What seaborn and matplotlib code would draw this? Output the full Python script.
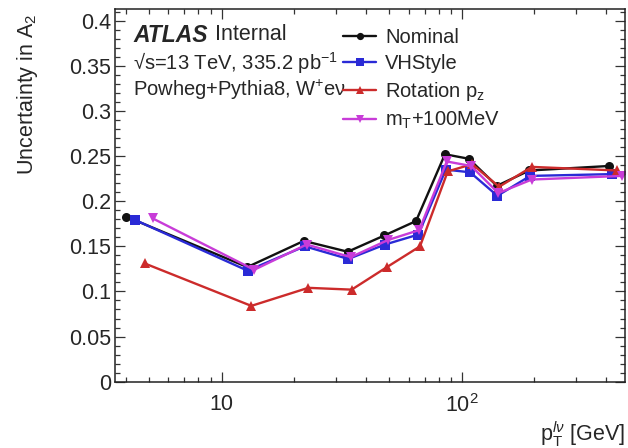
import numpy as np
import pandas as pd
import matplotlib
matplotlib.use("Agg")
import matplotlib.pyplot as plt
from matplotlib.ticker import FixedLocator, LogLocator, NullFormatter, MultipleLocator, FuncFormatter
import seaborn as sns

# pT bin positions (GeV) and uncertainty in A2 for each variation
nominal_pt = [4.0, 12.8, 22.0, 33.5, 47.6, 64.5, 85.1, 107.0, 140.0, 191.0, 410.0]
nominal_unc = [0.183, 0.127, 0.156, 0.144, 0.162, 0.178, 0.252, 0.247, 0.217, 0.234, 0.239]

vhstyle_pt = [4.38, 12.83, 22.2, 33.7, 47.9, 65.9, 85.8, 108.3, 140.6, 192.6, 424.0]
vhstyle_unc = [0.179, 0.123, 0.150, 0.136, 0.152, 0.163, 0.235, 0.232, 0.206, 0.228, 0.230]

rotation_pt = [4.79, 13.3, 22.96, 34.8, 48.8, 67.0, 87.4, 110.4, 143.0, 195.7, 444.6]
rotation_unc = [0.131, 0.084, 0.104, 0.102, 0.127, 0.150, 0.233, 0.241, 0.216, 0.238, 0.234]

mt_pt = [5.16, 13.67, 22.6, 34.5, 49.3, 66.5, 86.6, 109.3, 142.0, 195.7, 464.0]
mt_unc = [0.181, 0.124, 0.152, 0.138, 0.157, 0.168, 0.244, 0.239, 0.209, 0.224, 0.228]

series_names = ["Nominal", "VHStyle", "Rotation p$_\\mathregular{z}$", "m$_\\mathregular{T}$+100MeV"]
x_ticks = [10, 100]
x_tick_labels = ["10", "10$^\\mathregular{2}$"]

df = pd.concat([
    pd.DataFrame({"pt": nominal_pt, "unc": nominal_unc, "series": series_names[0]}),
    pd.DataFrame({"pt": vhstyle_pt, "unc": vhstyle_unc, "series": series_names[1]}),
    pd.DataFrame({"pt": rotation_pt, "unc": rotation_unc, "series": series_names[2]}),
    pd.DataFrame({"pt": mt_pt, "unc": mt_unc, "series": series_names[3]}),
], ignore_index=True)

sns.set_style("ticks")
plt.rcParams["font.family"] = ["Liberation Sans", "DejaVu Sans"]
plt.rcParams["mathtext.fontset"] = "custom"
plt.rcParams["mathtext.rm"] = "Liberation Sans"
plt.rcParams["mathtext.it"] = "Liberation Sans:italic"
plt.rcParams["mathtext.bf"] = "Liberation Sans:bold"

palette = {series_names[0]: "#111111", series_names[1]: "#2a2ad6",
           series_names[2]: "#cc2b2b", series_names[3]: "#c83cd8"}
markers = {series_names[0]: "o", series_names[1]: "s",
           series_names[2]: "^", series_names[3]: "v"}

W, H = 628, 448
fig = plt.figure(figsize=(W / 100, H / 100), dpi=100)
ax = fig.add_axes([115 / W, 1 - 381.7 / H, 510 / W, 372.4 / H])

sns.lineplot(data=df, x="pt", y="unc", hue="series", style="series",
             hue_order=series_names, style_order=series_names,
             palette=palette, markers=markers, dashes=False,
             sort=False, estimator=None, linewidth=1.7, markersize=6.5,
             markeredgewidth=0, legend=False, ax=ax)

ax.set_xscale("log")
ax.set_xlim(3.6, 478)
ax.set_ylim(0, 0.4126)

ax.xaxis.set_major_locator(FixedLocator(x_ticks))
ax.set_xticklabels(x_tick_labels)
ax.xaxis.set_minor_locator(LogLocator(base=10, subs=np.arange(2, 10)))
ax.xaxis.set_minor_formatter(NullFormatter())
ax.yaxis.set_major_locator(MultipleLocator(0.05))
ax.yaxis.set_minor_locator(MultipleLocator(0.01))
ax.yaxis.set_major_formatter(FuncFormatter(lambda v, p: "%g" % round(v, 3)))

ax.tick_params(which="both", direction="in", top=True, right=True,
               color="#333333", width=0.9, labelsize=15.5)
ax.tick_params(which="major", length=7.2)
ax.tick_params(which="minor", length=3.6)
ax.tick_params(axis="x", which="major", pad=9)
ax.tick_params(axis="y", which="major", pad=3)
for sp in ax.spines.values():
    sp.set_linewidth(1.1)
    sp.set_color("#222222")

ax.set_ylabel("Uncertainty in A$_\\mathregular{2}$", fontsize=15.5, loc="top")
ax.yaxis.set_label_coords(-0.148, 0.99)
ax.set_xlabel("p$_\\mathregular{T}^{l\\nu}$ [GeV]", fontsize=15.5, loc="right")
ax.xaxis.set_label_coords(1.0, -0.1)


def px(x, y):
    """Figure-fraction coordinates from pixel position measured from top-left."""
    return x / W, 1 - y / H


# Experiment label and run information
ax.text(*px(133, 35), "ATLAS", transform=fig.transFigure, fontsize=16.5,
        fontweight="bold", fontstyle="italic", va="center", ha="left")
ax.text(*px(215, 35), "Internal", transform=fig.transFigure, fontsize=15.5,
        va="center", ha="left")
ax.text(*px(133, 63), "\u221as=13 TeV, 335.2 pb$^{-1}$", transform=fig.transFigure,
        fontsize=14.5, va="center", ha="left")
ax.text(*px(133, 90), "Powheg+Pythia8, W$^{+}$e\u03bd", transform=fig.transFigure,
        fontsize=14.5, va="center", ha="left")

handles = ax.get_lines()[:4]
ax.legend(handles=handles, labels=series_names, loc="upper left",
          bbox_to_anchor=(0.447, 0.950), frameon=False, fontsize=14.5,
          handlelength=1.65, handletextpad=0.45, labelspacing=0.35,
          borderpad=0, borderaxespad=0, markerscale=0.8)

fig.savefig("out.png", dpi=100)
